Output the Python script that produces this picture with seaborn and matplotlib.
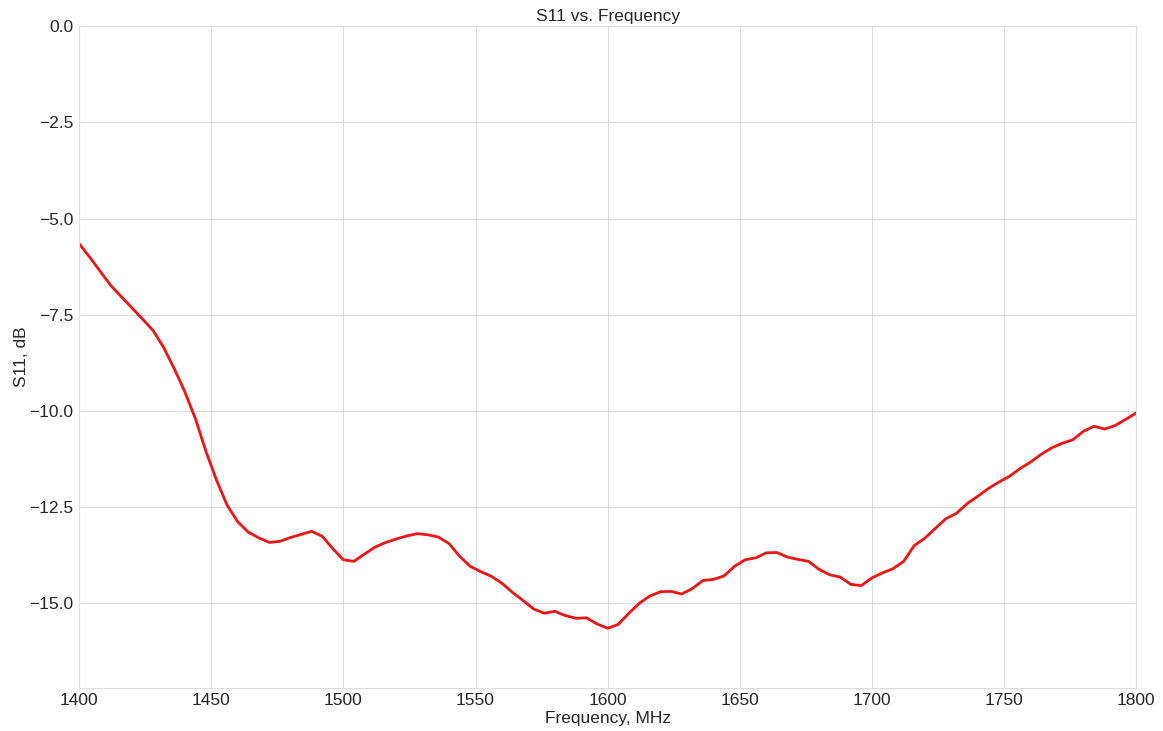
"""
S11 vs. Frequency plot (return loss of the antenna, 1400-1800 MHz)
"""

import numpy as np
import pandas as pd
import matplotlib

matplotlib.use("Agg")
import matplotlib.pyplot as plt
from matplotlib.ticker import MultipleLocator, FuncFormatter
import seaborn as sns

# -----------------------------
# Data (read off the measurement, 4 MHz step)
# -----------------------------
freq_mhz = np.arange(1400, 1801, 4)

s11_db = [
    -5.65, -6.00, -6.37, -6.74, -7.03, -7.32, -7.61, -7.91, -8.35, -8.90,
    -9.50, -10.20, -11.05, -11.80, -12.45, -12.88, -13.15, -13.30, -13.42, -13.39,
    -13.29, -13.21, -13.13, -13.26, -13.58, -13.87, -13.91, -13.72, -13.54, -13.42,
    -13.33, -13.25, -13.19, -13.22, -13.28, -13.45, -13.78, -14.04, -14.18, -14.30,
    -14.48, -14.72, -14.93, -15.15, -15.26, -15.21, -15.32, -15.39, -15.38, -15.54,
    -15.65, -15.55, -15.26, -15.00, -14.81, -14.70, -14.69, -14.76, -14.62, -14.41,
    -14.38, -14.29, -14.04, -13.87, -13.82, -13.69, -13.68, -13.80, -13.86, -13.91,
    -14.12, -14.26, -14.32, -14.51, -14.54, -14.34, -14.21, -14.10, -13.91, -13.50,
    -13.31, -13.05, -12.80, -12.66, -12.41, -12.22, -12.02, -11.85, -11.70, -11.50,
    -11.33, -11.13, -10.96, -10.84, -10.75, -10.53, -10.40, -10.47, -10.38, -10.22,
    -10.05,
]

df = pd.DataFrame({"Frequency, MHz": freq_mhz, "S11, dB": s11_db})

# -----------------------------
# Style
# -----------------------------
sns.set_style("whitegrid")
plt.rcParams["font.family"] = ["Liberation Sans", "DejaVu Sans"]
plt.rcParams["axes.edgecolor"] = "#dddddd"
plt.rcParams["grid.color"] = "#dddddd"

fig, ax = plt.subplots(figsize=(11.63, 7.31), dpi=100)
fig.subplots_adjust(left=0.068, right=0.977, top=0.964, bottom=0.059)

sns.lineplot(data=df, x="Frequency, MHz", y="S11, dB", color="#f01414",
             linewidth=2, ax=ax)

ax.set_xlim(1400, 1800)
ax.set_ylim(-17.2, 0)
ax.yaxis.set_major_locator(MultipleLocator(2.5))
ax.yaxis.set_major_formatter(
    FuncFormatter(lambda v, _: f"{v:.1f}".replace("-", "\u2212"))
)
ax.xaxis.set_major_locator(MultipleLocator(50))

ax.set_title("S11 vs. Frequency", fontsize=12.5, pad=4)
ax.set_xlabel("Frequency, MHz", fontsize=12.5, labelpad=2)
ax.set_ylabel("S11, dB", fontsize=12.5, labelpad=0)
ax.tick_params(labelsize=12.5, length=0, pad=4)

fig.savefig("out.png", dpi=100)
plt.close(fig)
